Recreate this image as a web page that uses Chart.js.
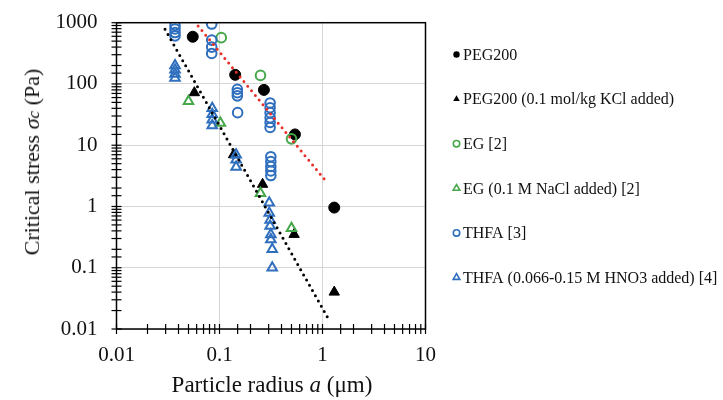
<!DOCTYPE html>
<html>
<head>
<meta charset="utf-8">
<script src="https://cdn.jsdelivr.net/npm/chart.js@4.4.1/dist/chart.umd.min.js"></script>
<style>
  body { margin: 0; background: #fff; }
  #wrap {
    position: relative;
    width: 723px;
    height: 400px;
    font-family: 'Liberation Serif', 'Times New Roman', serif;
    color: #111;
  }
  .ytitle {
    position: absolute;
    left: 32px;
    top: 162px;
    transform: translate(-50%, -50%) rotate(-90deg);
    font-size: 22px;
    white-space: nowrap;
  }
  .xtitle {
    position: absolute;
    left: 272px;
    top: 385px;
    transform: translate(-50%, -50%);
    font-size: 23px;
    white-space: nowrap;
  }
</style>
</head>
<body>
<div id="wrap">
  <canvas id="stress-chart" width="723" height="400"></canvas>
  <div class="ytitle">Critical stress <i>σ<span style="font-size:0.8em">c</span></i> (Pa)</div>
  <div class="xtitle">Particle radius <i>a</i> (μm)</div>
</div>
<script>
// critical stress vs particle radius

const seriesNames = [
  'PEG200',
  'PEG200 (0.1 mol/kg KCl added)',
  'EG [2]',
  'EG (0.1 M NaCl added) [2]',
  'THFA [3]',
  'THFA (0.066-0.15 M HNO3 added) [4]',
];

const pegX = [0.055, 0.142, 0.27, 0.54, 1.3];
const pegY = [590, 141, 80, 15, 0.96];

const pegKclX = [0.057, 0.137, 0.262, 0.53, 1.3];
const pegKclY = [72, 7.0, 2.3, 0.35, 0.04];

const egX = [0.104, 0.25, 0.5];
const egY = [570, 138, 12.7];

const egNaclX = [0.05, 0.102, 0.25, 0.5];
const egNaclY = [52, 23, 1.65, 0.44];

const thfaX = [
  0.037, 0.037, 0.037, 0.037,
  0.084, 0.084, 0.084, 0.084,
  0.149, 0.149, 0.149, 0.15,
  0.31, 0.31, 0.31, 0.31, 0.31, 0.31,
  0.315, 0.315, 0.315, 0.315, 0.315,
];
const thfaY = [
  900, 790, 690, 610,
  950, 520, 400, 315,
  82, 72, 64, 34,
  49, 41, 34, 28, 23.5, 19.5,
  6.5, 5.4, 4.5, 3.8, 3.2,
];

const thfaHno3X = [
  0.037, 0.037, 0.037, 0.037,
  0.085, 0.085, 0.085, 0.085,
  0.145, 0.145, 0.145,
  0.304, 0.304, 0.31, 0.31, 0.315, 0.315, 0.325, 0.325,
];
const thfaHno3Y = [
  200, 170, 145, 125,
  40, 32, 26, 21,
  7, 5.8, 4.4,
  1.15, 0.78, 0.6, 0.48, 0.35, 0.29, 0.2, 0.1,
];

// dotted trend lines (end points)
const blackTrendX = [0.0296, 1.14];
const blackTrendY = [781, 0.0147];
const redTrendX = [0.062, 1.1];
const redTrendY = [884, 2.5];

const blue = '#2f6fbd';
const green = '#46a84b';

const toPoints = (xs, ys) => xs.map((x, i) => ({ x: x, y: ys[i] }));

const isMajor = (v) => {
  const l = Math.log10(v);
  return Math.abs(l - Math.round(l)) < 1e-6;
};

Chart.defaults.font.family = "'Liberation Serif', 'Times New Roman', serif";
Chart.defaults.color = '#111';

const markerDatasets = [
  { label: seriesNames[0], data: toPoints(pegX, pegY), pointStyle: 'circle', pointRadius: 5.5,
    backgroundColor: '#000', borderColor: '#000', borderWidth: 1, order: 6 },
  { label: seriesNames[1], data: toPoints(pegKclX, pegKclY), pointStyle: 'triangle', pointRadius: 6,
    backgroundColor: '#000', borderColor: '#000', borderWidth: 1, order: 5 },
  { label: seriesNames[2], data: toPoints(egX, egY), pointStyle: 'circle', pointRadius: 4.8,
    backgroundColor: 'rgba(0,0,0,0)', borderColor: green, borderWidth: 2, order: 4 },
  { label: seriesNames[3], data: toPoints(egNaclX, egNaclY), pointStyle: 'triangle', pointRadius: 5.5,
    backgroundColor: 'rgba(0,0,0,0)', borderColor: green, borderWidth: 2, order: 3 },
  { label: seriesNames[4], data: toPoints(thfaX, thfaY), pointStyle: 'circle', pointRadius: 4.8,
    backgroundColor: 'rgba(0,0,0,0)', borderColor: blue, borderWidth: 2, order: 2 },
  { label: seriesNames[5], data: toPoints(thfaHno3X, thfaHno3Y), pointStyle: 'triangle', pointRadius: 5.5,
    backgroundColor: 'rgba(0,0,0,0)', borderColor: blue, borderWidth: 2, order: 1 },
];

const trendDatasets = [
  { label: 'trend black', data: toPoints(blackTrendX, blackTrendY), showLine: true, pointRadius: 0,
    borderColor: '#000', borderWidth: 3, borderDash: [0, 6], borderCapStyle: 'round', order: 0 },
  { label: 'trend red', data: toPoints(redTrendX, redTrendY), showLine: true, pointRadius: 0,
    borderColor: '#e8302a', borderWidth: 3, borderDash: [0, 6], borderCapStyle: 'round', order: 0 },
];

// frame + tick marks that cross the axis lines
const frameTicks = {
  id: 'frameTicks',
  afterDraw(chart) {
    const { ctx, chartArea, scales } = chart;
    ctx.save();
    ctx.strokeStyle = '#000';
    ctx.lineWidth = 1.5;
    ctx.strokeRect(chartArea.left, chartArea.top, chartArea.right - chartArea.left, chartArea.bottom - chartArea.top);
    ctx.lineWidth = 1.2;
    scales.x.ticks.forEach((t) => {
      const px = scales.x.getPixelForValue(t.value);
      ctx.beginPath();
      ctx.moveTo(px, chartArea.bottom - 5);
      ctx.lineTo(px, chartArea.bottom + 5);
      ctx.stroke();
    });
    scales.y.ticks.forEach((t) => {
      const py = scales.y.getPixelForValue(t.value);
      ctx.beginPath();
      ctx.moveTo(chartArea.left - 5, py);
      ctx.lineTo(chartArea.left + 5, py);
      ctx.stroke();
    });
    ctx.restore();
  },
};

// legend on the right, small markers like the original
const sideLegend = {
  id: 'sideLegend',
  afterDraw(chart) {
    const ctx = chart.ctx;
    ctx.save();
    ctx.font = "16px 'Liberation Serif', 'Times New Roman', serif";
    ctx.fillStyle = '#111';
    ctx.textBaseline = 'middle';
    markerDatasets.forEach((ds, i) => {
      const x = 456.5;
      const y = 54.5 + i * 44.6;
      const r = ds.pointStyle === 'circle' ? 3.2 : 3.8;
      ctx.beginPath();
      if (ds.pointStyle === 'circle') {
        ctx.arc(x, y, r, 0, Math.PI * 2);
      } else {
        ctx.moveTo(x, y - r);
        ctx.lineTo(x + r * 0.866, y + r * 0.5);
        ctx.lineTo(x - r * 0.866, y + r * 0.5);
        ctx.closePath();
      }
      if (ds.backgroundColor === '#000') {
        ctx.fillStyle = '#000';
        ctx.fill();
      } else {
        ctx.strokeStyle = ds.borderColor;
        ctx.lineWidth = 1.6;
        ctx.stroke();
      }
      ctx.fillStyle = '#111';
      ctx.fillText(ds.label, 463, y + 1);
    });
    ctx.restore();
  },
};

const gridColor = (c) => (c.tick && isMajor(c.tick.value) ? '#d6d6d6' : 'rgba(0,0,0,0)');

new Chart(document.getElementById('stress-chart').getContext('2d'), {
  type: 'scatter',
  data: { datasets: markerDatasets.concat(trendDatasets) },
  options: {
    responsive: false,
    animation: false,
    layout: { padding: { left: 0, right: 297.5, top: 22.7, bottom: 0 } },
    plugins: { legend: { display: false }, tooltip: { enabled: false } },
    scales: {
      x: {
        type: 'logarithmic',
        min: 0.01,
        max: 10,
        border: { display: false },
        grid: { color: gridColor, drawTicks: false, lineWidth: 1 },
        ticks: {
          autoSkip: false,
          maxRotation: 0,
          padding: 14,
          font: { size: 21 },
          callback: (v) => (isMajor(v) ? String(v) : ''),
        },
        afterFit: (s) => {
          s.height = 71;
          s.paddingLeft = 0;
          s.paddingRight = 0;
        },
      },
      y: {
        type: 'logarithmic',
        min: 0.01,
        max: 1000,
        border: { display: false },
        grid: { color: gridColor, drawTicks: false, lineWidth: 1 },
        ticks: {
          autoSkip: false,
          padding: 19,
          font: { size: 21 },
          callback: (v) => (isMajor(v) ? String(v) : ''),
        },
        afterFit: (s) => {
          s.width = 116.5;
          s.paddingTop = 0;
          s.paddingBottom = 0;
        },
      },
    },
  },
  plugins: [frameTicks, sideLegend],
});
</script>
</body>
</html>
